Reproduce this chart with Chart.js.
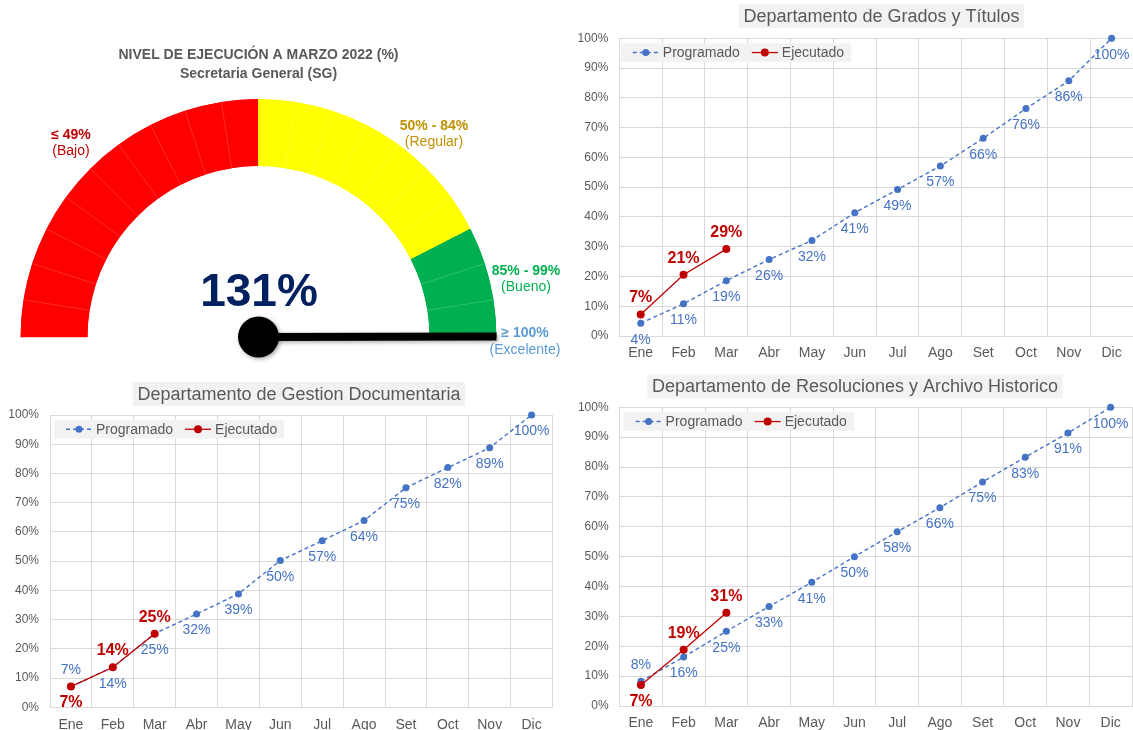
<!DOCTYPE html>
<html>
<head>
<meta charset="utf-8">
<script src="https://cdn.jsdelivr.net/npm/chart.js@4.4.1/dist/chart.umd.min.js"></script>
<style>
    html, body { margin: 0; padding: 0; background: #fff; }
    body { width: 1133px; height: 730px; position: relative; overflow: hidden; }
    .caja { position: absolute; }
</style>
</head>
<body>
<div class="caja" style="left:0;top:0;width:565px;height:365px"><canvas id="gauge"></canvas></div>
<div class="caja" style="left:565px;top:0;width:568px;height:365px"><canvas id="grados"></canvas></div>
<div class="caja" style="left:0;top:365px;width:565px;height:365px"><canvas id="gestion"></canvas></div>
<div class="caja" style="left:565px;top:365px;width:568px;height:365px"><canvas id="resoluciones"></canvas></div>
<script>
var FUENTE = "'Liberation Sans', Arial, sans-serif";
Chart.defaults.font.family = FUENTE;
Chart.defaults.color = "#595959";
Chart.defaults.animation = false;

// DATOS
var meses = ["Ene", "Feb", "Mar", "Abr", "May", "Jun", "Jul", "Ago", "Set", "Oct", "Nov", "Dic"];
var ticksY = ["0%", "10%", "20%", "30%", "40%", "50%", "60%", "70%", "80%", "90%", "100%"];

// Grados y Títulos
var progGrados = [4.3, 10.8, 18.6, 25.7, 32.1, 41.4, 49.2, 57.1, 66.4, 76.4, 85.7, 100];
var ejecGrados = [7.2, 20.6, 29.2];
// Gestion Documentaria
var progGestion = [7.1, 13.7, 25.2, 31.9, 38.8, 50.2, 57.0, 63.9, 75.1, 82.0, 88.8, 100];
var ejecGestion = [7.1, 13.7, 25.2];
// Resoluciones y Archivo Historico
var progResol = [8.3, 16.4, 25.0, 33.3, 41.4, 50.0, 58.3, 66.4, 75.0, 83.3, 91.4, 100];
var ejecResol = [7.0, 18.8, 31.2];

// Velocímetro
var valorSG = 131;
var segmentosGauge = [5, 5, 5, 5, 5, 5, 5, 5, 5, 5, 5, 5, 5, 5, 5, 5, 5, 5, 5, 5];
var segmentosPorBanda = [10, 7, 3];
var rangosBanda = ["≤ 49%", "50% - 84%", "85% - 99%", "≥ 100%"];
var nombresBanda = ["(Bajo)", "(Regular)", "(Bueno)", "(Excelente)"];

// Posición de etiquetas (arriba / abajo del punto)
var posProgGrados = ["abajo", "abajo", "abajo", "abajo", "abajo", "abajo", "abajo", "abajo", "abajo", "abajo", "abajo", "abajo"];
var posEjecGrados = ["arriba", "arriba", "arriba"];
var posProgOtros = ["arriba", "abajo", "abajo", "abajo", "abajo", "abajo", "abajo", "abajo", "abajo", "abajo", "abajo", "abajo"];
var posEjecOtros = ["abajo", "arriba", "arriba"];

// ---------- plugins ----------
var etiquetas = {
    id: "etiquetas",
    afterDatasetsDraw: function (chart) {
        var ctx = chart.ctx;
        chart.data.datasets.forEach(function (ds, i) {
            var meta = chart.getDatasetMeta(i);
            meta.data.forEach(function (pt, j) {
                var dy = ds.posEtiqueta[j] === "arriba" ? -16.5 : 16.5;
                ctx.save();
                ctx.font = ds.fuenteEtiqueta;
                ctx.fillStyle = ds.borderColor;
                ctx.textAlign = "center";
                ctx.textBaseline = "middle";
                ctx.fillText(Math.round(ds.data[j]) + "%", pt.x, pt.y + dy);
                ctx.restore();
            });
        });
    },
};

var cabecera = {
    id: "cabecera",
    beforeDraw: function (chart, args, opts) {
        var ctx = chart.ctx;
        ctx.save();
        ctx.font = "18px " + FUENTE;
        var w = ctx.measureText(opts.titulo).width + 9;
        ctx.fillStyle = "#F2F2F2";
        ctx.fillRect(opts.x - w / 2, opts.y - 12, w, 24);
        ctx.fillStyle = "#595959";
        ctx.textAlign = "center";
        ctx.textBaseline = "middle";
        ctx.fillText(opts.titulo, opts.x, opts.y + 1);
        ctx.restore();
    },
    beforeDatasetsDraw: function (chart, args, opts) {
        // leyenda con fondo gris dentro del área
        var ctx = chart.ctx, a = chart.chartArea;
        var x0 = a.left + opts.leyDx, y0 = a.top + 5, h = 18.5;
        ctx.save();
        ctx.font = "14px " + FUENTE;
        var items = [chart.data.datasets[0], chart.data.datasets[1]];
        var ancho = 12 + 26 + 4 + ctx.measureText(items[0].label).width + 12 + 26 + 4 + ctx.measureText(items[1].label).width + 7;
        ctx.fillStyle = "#F2F2F2";
        ctx.fillRect(x0, y0, ancho, h);
        var x = x0 + 12, cy = y0 + h / 2;
        items.forEach(function (ds) {
            ctx.strokeStyle = ds.borderColor;
            ctx.lineWidth = ds.borderWidth;
            ctx.setLineDash(ds.borderDash || []);
            ctx.beginPath();
            ctx.moveTo(x, cy);
            ctx.lineTo(x + 26, cy);
            ctx.stroke();
            ctx.setLineDash([]);
            ctx.fillStyle = ds.borderColor;
            ctx.beginPath();
            ctx.arc(x + 13, cy, ds.pointRadius, 0, Math.PI * 2);
            ctx.fill();
            ctx.fillStyle = "#595959";
            ctx.textBaseline = "middle";
            ctx.fillText(ds.label, x + 30, cy + 0.5);
            x += 30 + ctx.measureText(ds.label).width + 12;
        });
        ctx.restore();
    },
};

function graficoLinea(id, prog, ejec, posProg, posEjec, area, cab) {
    var W = 568, H = 365;
    if (id === "gestion") W = 565;
    return new Chart(document.getElementById(id), {
        type: "line",
        data: {
            labels: meses,
            datasets: [
                {
                    label: "Programado",
                    data: prog,
                    borderColor: "#4472C4",
                    backgroundColor: "#4472C4",
                    borderWidth: 1.4,
                    borderDash: [4, 3],
                    pointRadius: 3.5,
                    pointBorderWidth: 0,
                    tension: 0,
                    clip: false,
                    order: 1,
                    posEtiqueta: posProg,
                    fuenteEtiqueta: "14px " + FUENTE,
                },
                {
                    label: "Ejecutado",
                    data: ejec,
                    borderColor: "#C00000",
                    backgroundColor: "#C00000",
                    borderWidth: 1.3,
                    pointRadius: 4,
                    pointBorderWidth: 0,
                    tension: 0,
                    clip: false,
                    order: 0,
                    posEtiqueta: posEjec,
                    fuenteEtiqueta: "bold 16px " + FUENTE,
                },
            ],
        },
        options: {
            responsive: true,
            maintainAspectRatio: false,
            events: [],
            layout: { autoPadding: false, padding: { left: 0, top: area[1], right: W - area[2], bottom: 0 } },
            scales: {
                x: {
                    offset: true,
                    grid: { offset: true, color: "#D9D9D9", drawTicks: false },
                    border: { color: "#D9D9D9" },
                    ticks: { font: { size: 14 }, color: "#595959", padding: 9, maxRotation: 0 },
                    afterFit: function (s) { s.height = H - area[3]; },
                },
                y: {
                    min: 0,
                    max: 100,
                    ticks: {
                        stepSize: 10,
                        font: { size: 12 },
                        color: "#595959",
                        padding: 11,
                        callback: function (v, i) { return ticksY[i]; },
                    },
                    grid: { color: "#D9D9D9", drawTicks: false },
                    border: { color: "#D9D9D9" },
                    afterFit: function (s) { s.width = area[0]; },
                },
            },
            plugins: {
                legend: { display: false },
                tooltip: { enabled: false },
                cabecera: cab,
            },
        },
        plugins: [cabecera, etiquetas],
    });
}

graficoLinea("grados", progGrados, ejecGrados, posProgGrados, posEjecGrados,
    [54.3, 38.3, 568, 336], { titulo: "Departamento de Grados y Títulos", x: 316.5, y: 16, leyDx: 1.5 });
graficoLinea("gestion", progGestion, ejecGestion, posProgOtros, posEjecOtros,
    [50, 50, 552.5, 342.3], { titulo: "Departamento de Gestion Documentaria", x: 299, y: 29, leyDx: 4 });
graficoLinea("resoluciones", progResol, ejecResol, posProgOtros, posEjecOtros,
    [54.6, 42.3, 567, 341], { titulo: "Departamento de Resoluciones y Archivo Historico", x: 290, y: 21.5, leyDx: 4 });

// ---------- velocímetro ----------
var coloresBanda = ["#FF0000", "#FFFF00", "#00B050"];
var coloresGauge = [];
segmentosPorBanda.forEach(function (n, b) {
    for (var k = 0; k < n; k++) coloresGauge.push(coloresBanda[b]);
});

var decoGauge = {
    id: "decoGauge",
    afterDraw: function (chart) {
        var ctx = chart.ctx;
        var arcos = chart.getDatasetMeta(0).data;
        var cx = arcos[0].x, cy = arcos[0].y;
        var rO = arcos[0].outerRadius, rI = arcos[0].innerRadius;
        ctx.save();
        // separadores tenues
        ctx.strokeStyle = "rgba(255,255,255,0.22)";
        ctx.lineWidth = 0.8;
        arcos.forEach(function (arc, i) {
            if (i === 0 || coloresGauge[i] !== coloresGauge[i - 1]) return;
            var an = arc.startAngle;
            ctx.beginPath();
            ctx.moveTo(cx + rI * Math.cos(an), cy + rI * Math.sin(an));
            ctx.lineTo(cx + rO * Math.cos(an), cy + rO * Math.sin(an));
            ctx.stroke();
        });
        // aguja
        var a0 = arcos[0].startAngle, a1 = arcos[arcos.length - 1].endAngle;
        var ang = a0 + (a1 - a0) * Math.min(valorSG, 100) / 100;
        ctx.shadowColor = "rgba(0,0,0,0.35)";
        ctx.shadowBlur = 4;
        ctx.shadowOffsetX = 1.5;
        ctx.shadowOffsetY = 1.5;
        ctx.strokeStyle = "#000";
        ctx.lineWidth = 8;
        ctx.beginPath();
        ctx.moveTo(cx, cy);
        ctx.lineTo(cx + rO * Math.cos(ang), cy + rO * Math.sin(ang) - 0.5);
        ctx.stroke();
        ctx.fillStyle = "#000";
        ctx.beginPath();
        ctx.arc(cx, cy, 20.5, 0, Math.PI * 2);
        ctx.fill();
        ctx.restore();

        // textos
        ctx.save();
        ctx.textAlign = "center";
        ctx.textBaseline = "alphabetic";
        ctx.fillStyle = "#595959";
        ctx.font = "bold 14px " + FUENTE;
        ctx.fillText("NIVEL DE EJECUCIÓN A MARZO 2022 (%)", 258.5, 59);
        ctx.fillText("Secretaria General (SG)", 258.5, 77.5);

        ctx.fillStyle = "#002060";
        ctx.font = "bold 46px " + FUENTE;
        ctx.fillText(valorSG + "%", 259, 306);

        var colores = ["#C00000", "#BF9000", "#00B050", "#5B9BD5"];
        var pos = [[71, 139], [434, 129.5], [526, 275], [525, 337.3]];
        rangosBanda.forEach(function (t, i) {
            ctx.fillStyle = colores[i];
            ctx.font = "bold 14px " + FUENTE;
            ctx.fillText(t, pos[i][0], pos[i][1]);
            ctx.font = "14px " + FUENTE;
            ctx.fillText(nombresBanda[i], pos[i][0], pos[i][1] + 16.2);
        });
        ctx.restore();
    },
};

new Chart(document.getElementById("gauge"), {
    type: "doughnut",
    data: {
        labels: coloresGauge.map(function (c, i) { return "S" + (i + 1); }),
        datasets: [
            {
                data: segmentosGauge,
                backgroundColor: coloresGauge,
                borderColor: coloresGauge,
                borderWidth: 1,
                borderAlign: "inner",
            },
        ],
    },
    options: {
        responsive: true,
        maintainAspectRatio: false,
        events: [],
        rotation: -90,
        circumference: 180,
        cutout: "71.8%",
        layout: { padding: { left: 20.5, right: 68.5, top: 99, bottom: 28 } },
        plugins: { legend: { display: false }, tooltip: { enabled: false } },
    },
    plugins: [decoGauge],
});
</script>
</body>
</html>
